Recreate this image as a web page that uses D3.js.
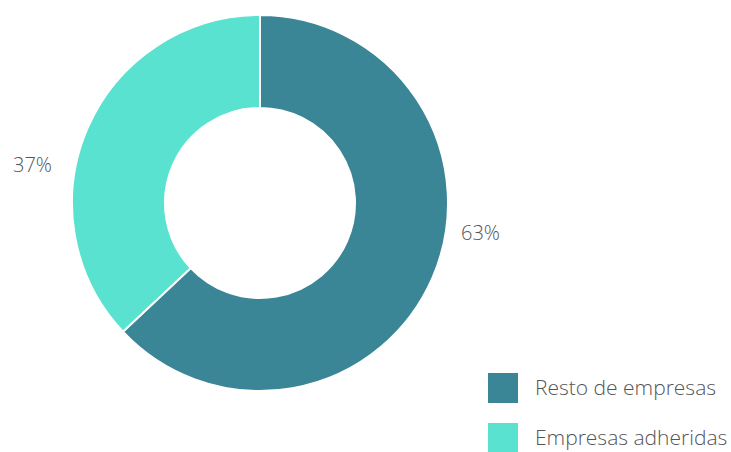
<!DOCTYPE html>
<html><head><meta charset="utf-8">
<script src="https://cdn.jsdelivr.net/npm/d3@7"></script>
<style>html,body{margin:0;padding:0;background:#fff;}svg{display:block;}</style>
</head><body>
<svg id="c" width="731" height="452"></svg>
<script>
const categories = ["Resto de empresas", "Empresas adheridas"];
const values = [63, 37];
const colors = ["#3A8696", "#5AE2D0"];

const svg = d3.select("#c");
const cx = 260, cy = 203, outerR = 188, innerR = 95;
const g = svg.append("g").attr("transform", `translate(${cx},${cy})`);
const pie = d3.pie().sort(null).value(d => d)(values);
const arc = d3.arc().innerRadius(innerR).outerRadius(outerR);
const color = d3.scaleOrdinal().domain(categories).range(colors);

g.selectAll("path").data(pie).join("path")
  .attr("d", arc)
  .attr("fill", (d, i) => color(categories[i]))
  .attr("stroke", "#fff").attr("stroke-width", 2);

const labelArc = d3.arc().innerRadius(85).outerRadius(85);
g.selectAll("text.lbl").data(pie).join("text").attr("class", "lbl")
  .each(function(d) {
    const c = labelArc.centroid(d);
    const right = c[0] > 0;
    d3.select(this)
      .attr("x", right ? outerR + 13 : -(outerR + 20))
      .attr("y", c[1] + 3)
      .attr("text-anchor", right ? "start" : "end");
  })
  .text(d => Math.round(d.data) + "%")
  .attr("font-family", "Open Sans").attr("font-weight", 300)
  .attr("font-size", 20).attr("fill", "#555");

const legend = svg.append("g").attr("transform", "translate(488,373)");
const items = legend.selectAll("g").data(categories).join("g")
  .attr("transform", (d, i) => `translate(0,${i * 50})`);
items.append("rect").attr("width", 30).attr("height", 30).attr("fill", d => color(d));
items.append("text").attr("x", 47).attr("y", 22)
  .text(d => d)
  .attr("font-family", "Open Sans").attr("font-weight", 300)
  .attr("font-size", 21).attr("fill", "#555");
</script>
</body></html>
